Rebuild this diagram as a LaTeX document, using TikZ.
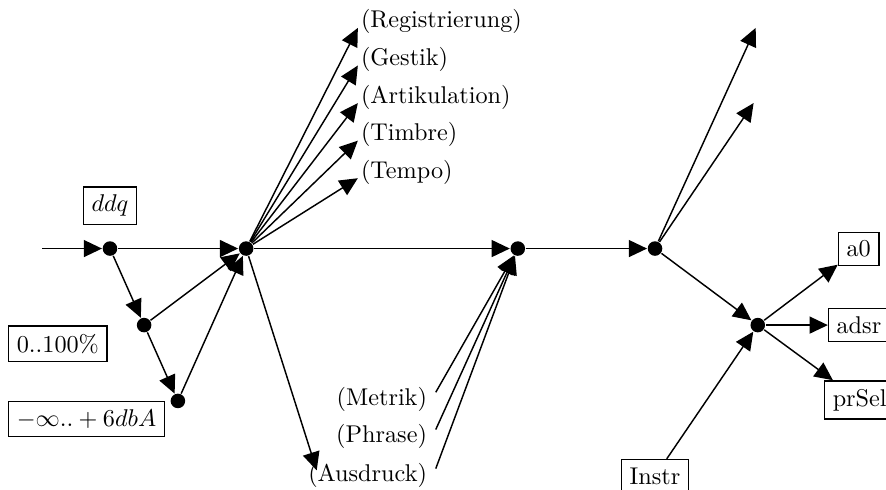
\documentclass[tikz,border=0pt]{standalone}
\usepackage{tikz}
\usetikzlibrary{arrows.meta,positioning}
\usepackage{amssymb,amsmath}

\begin{document}
\begin{tikzpicture}[->,>={Triangle[length=7.5pt,width=7pt]},semithick,
      dot/.style={circle,fill,inner sep=0pt,minimum size=6pt},
      box/.style={rectangle,draw},
      up/.style={anchor=base west,inner xsep=1pt},
      down/.style={anchor=east}]

      \useasboundingbox (0,0) rectangle (12.85,7.105);

      \coordinate (in) at (0.61,3.5);
      \node[dot] (1) at (1.595,3.5) {};
      \node[dot] (2) at (2.09,2.39) {};
      \node[dot] (3) at (2.58,1.29) {};
      \node[dot] (4) at (3.57,3.5) {};
      \node[dot] (5) at (7.51,3.5) {};
      \node[dot] (6) at (9.50,3.5) {};
      \node[dot] (7) at (10.99,2.39) {};

      \node[box] (ddq) [above=0.22cm of 1] {$ddq$};
      \node[box,anchor=west] (pct) at (0.116,2.12) {0..100\%};
      \node[box,anchor=west] (dba) at (0.116,1.03) {$-\infty .. +6dbA$};

      \node[up] (reg) at (5.19,6.70) {(Registrierung)};
      \node[up] (ges) at (5.19,6.155) {(Gestik)};
      \node[up] (art) at (5.19,5.61) {(Artikulation)};
      \node[up] (tim) at (5.19,5.065) {(Timbre)};
      \node[up] (tem) at (5.19,4.52) {(Tempo)};

      \node[down] (met) at (6.32,1.31) {(Metrik)};
      \node[down] (phr) at (6.32,0.77) {(Phrase)};
      \node[down] (aus) at (6.32,0.203) {(Ausdruck)};

      \coordinate (u1) at (10.96,6.70);
      \coordinate (u2) at (10.93,5.61);

      \node[box,anchor=west] (a0) at (12.15,3.495) {a0};
      \node[box,anchor=west] (adsr) at (12.006,2.39) {adsr};
      \node[box,anchor=west] (prsel) at (11.95,1.305) {prSel};
      \node[box] (instr) at (9.50,0.2) {Instr};

      \path
      (in) edge (1)
      (1) edge (4)
      (1) edge (2)
      (2) edge (3)
      (2) edge (4)
      (3) edge (4)
      (4) edge (5)
      (4) edge (reg.base west)
      (4) edge (ges.base west)
      (4) edge (art.base west)
      (4) edge (tim.base west)
      (4) edge (tem.base west)
      (4) edge ([shift={(0.25,0.08)}]aus.west)
      ([yshift=3pt]met.east) edge (5)
      ([yshift=3pt]phr.east) edge (5)
      ([yshift=3pt]aus.east) edge (5)
      (5) edge (6)
      (6) edge (u1)
      (6) edge (u2)
      (6) edge (7)
      (instr) edge (7)
      (7) edge (a0)
      (7) edge (adsr)
      (7) edge (prsel);
    \end{tikzpicture}
\end{document}
